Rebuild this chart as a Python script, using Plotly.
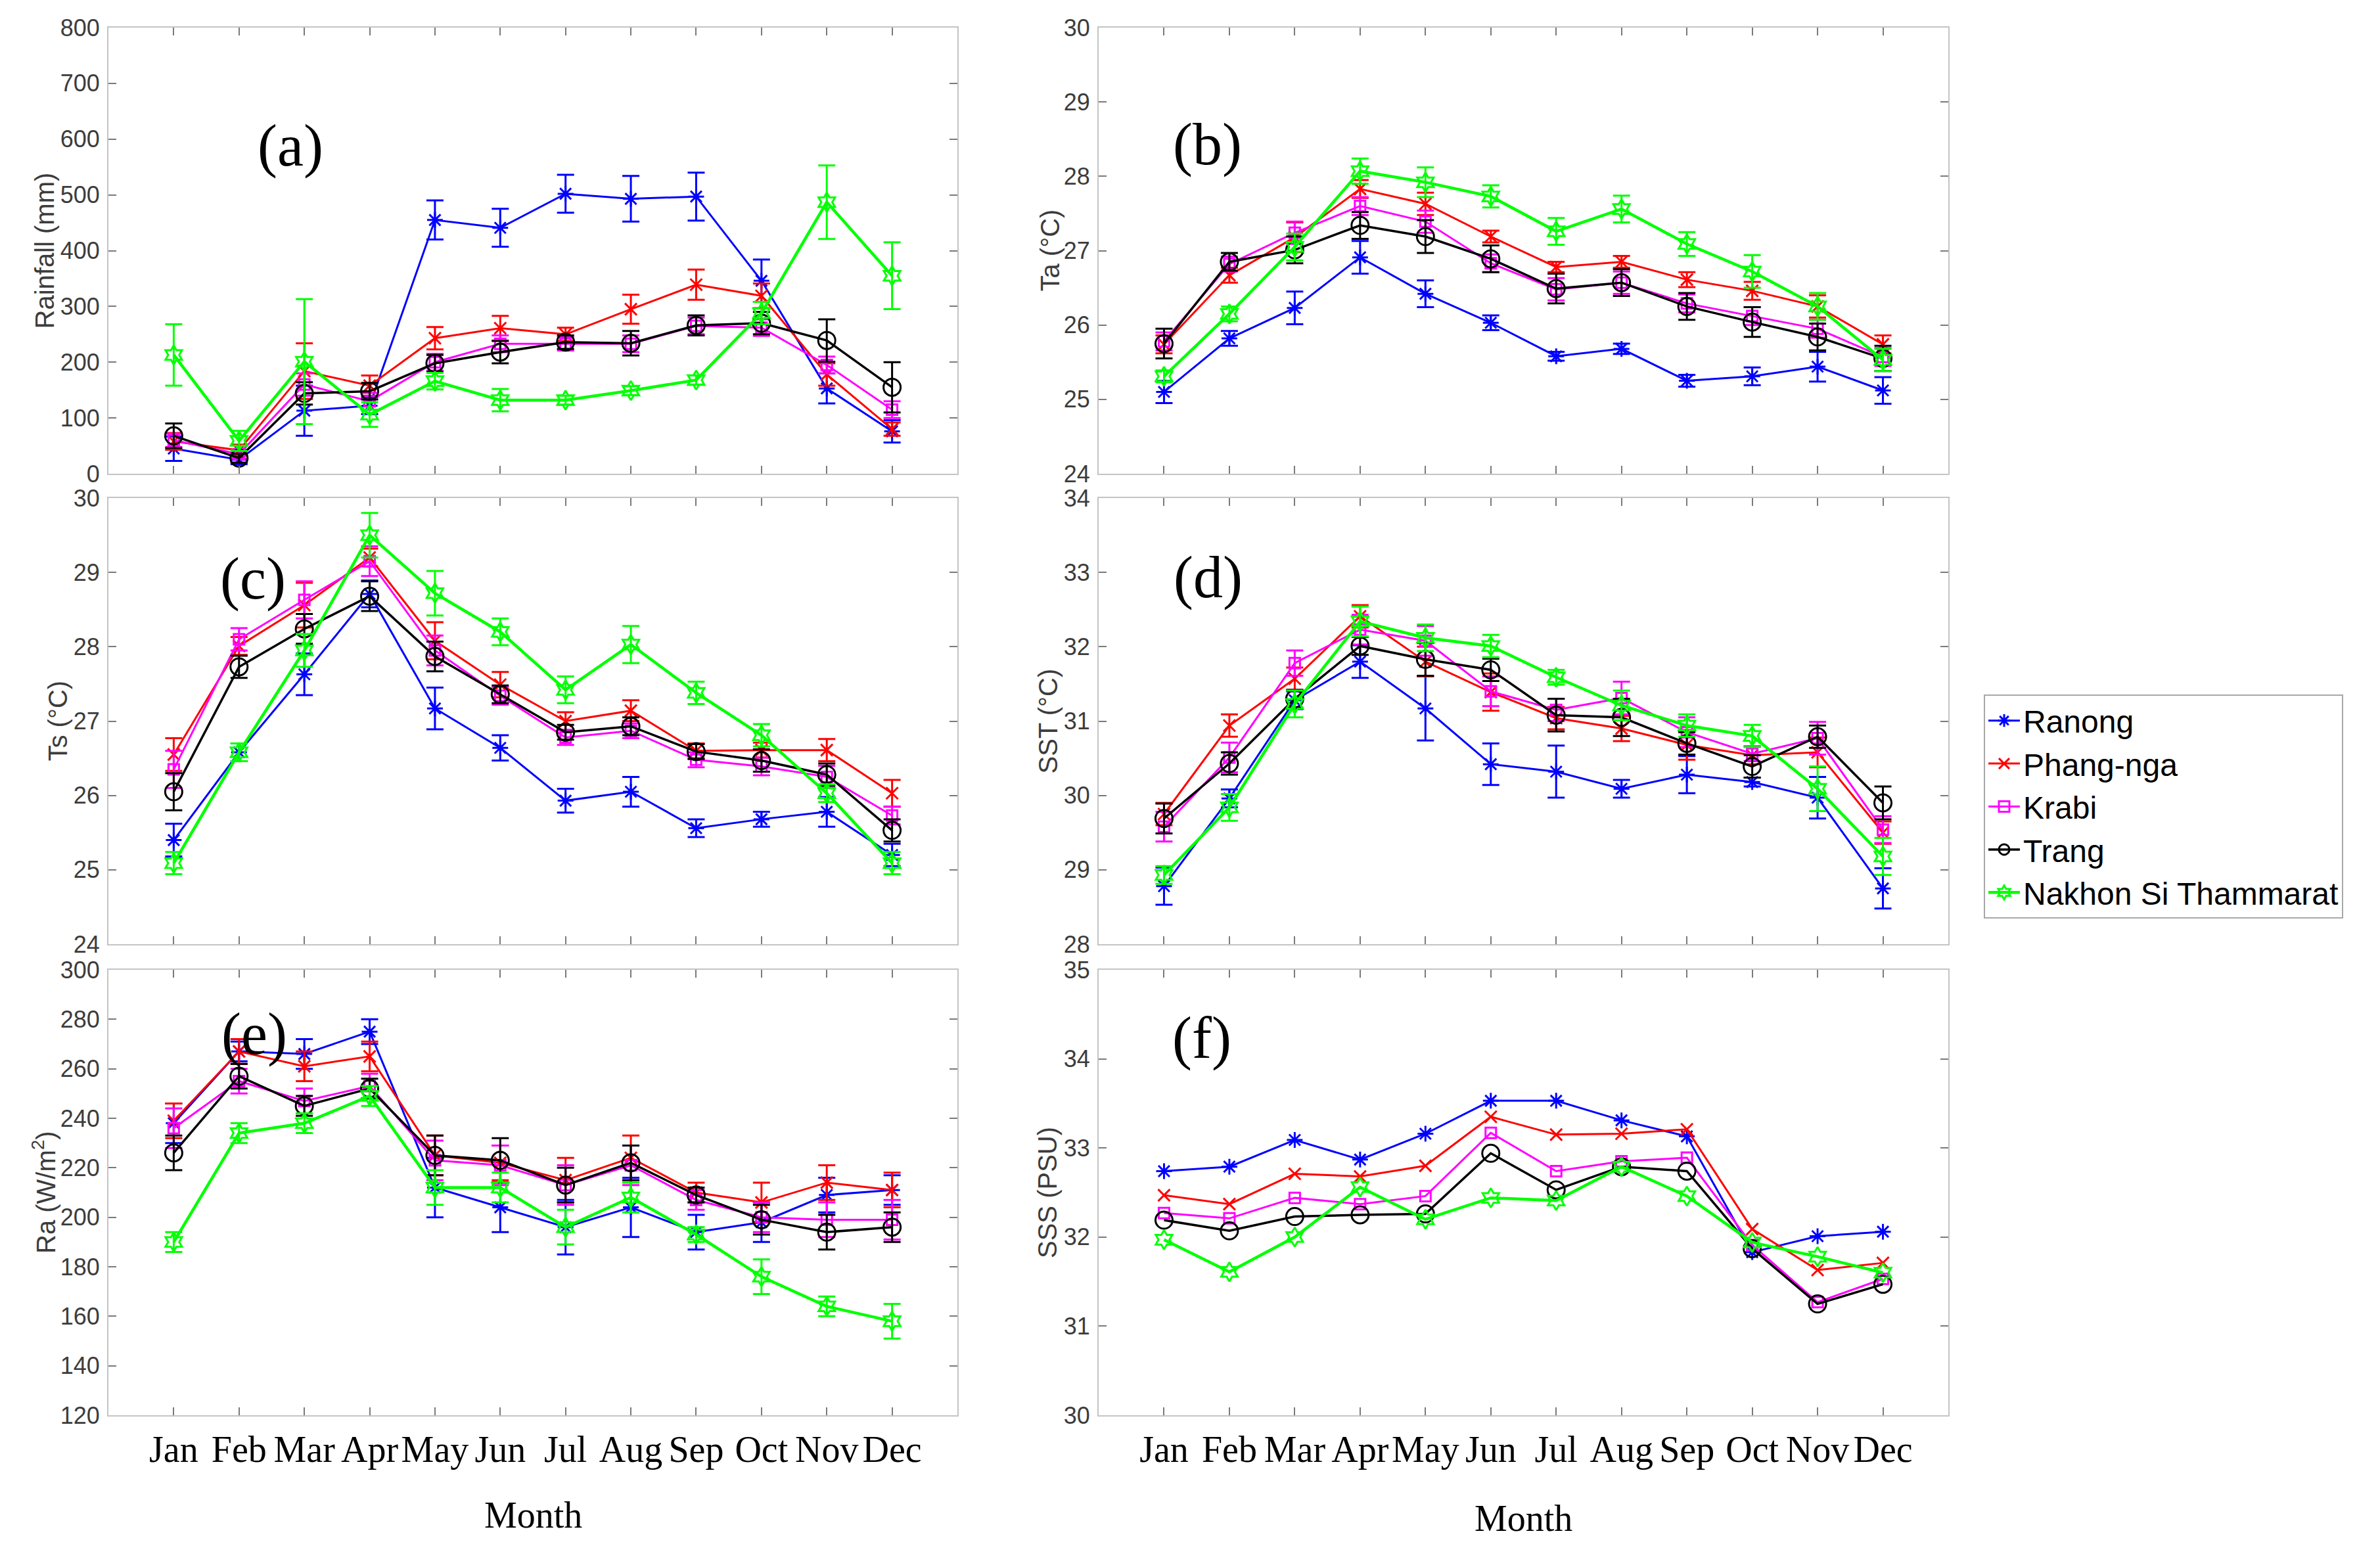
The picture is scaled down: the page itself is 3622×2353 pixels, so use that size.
import plotly.graph_objects as go

# ---------------- data ----------------
MONTHS = ["Jan", "Feb", "Mar", "Apr", "May", "Jun", "Jul", "Aug", "Sep", "Oct", "Nov", "Dec"]
STATIONS = ["Ranong", "Phang-nga", "Krabi", "Trang", "Nakhon Si Thammarat"]

# (a) Rainfall (mm)
RAIN_RANONG = [45, 25, 113, 122, 455, 441, 502, 493, 497, 346, 153, 76]
RAIN_RANONG_ERR = [22, 8, 45, 15, 35, 34, 34, 41, 43, 38, 27, 20]
RAIN_PHANGNGA = [58, 42, 184, 158, 243, 261, 250, 295, 339, 319, 178, 80]
RAIN_PHANGNGA_ERR = [15, 10, 50, 18, 20, 22, 12, 26, 27, 22, 20, 12]
RAIN_KRABI = [60, 35, 160, 130, 200, 233, 233, 233, 265, 262, 195, 115]
RAIN_KRABI_ERR = [12, 8, 20, 15, 15, 15, 12, 15, 15, 15, 15, 15]
RAIN_TRANG = [68, 28, 144, 148, 198, 218, 236, 234, 266, 270, 239, 155]
RAIN_TRANG_ERR = [22, 8, 20, 15, 15, 20, 12, 22, 18, 20, 38, 45]
RAIN_NAKHON = [213, 59, 201, 106, 166, 132, 132, 149, 168, 288, 487, 355]
RAIN_NAKHON_ERR = [55, 18, 112, 22, 15, 20, 8, 8, 8, 20, 66, 60]

# (b) Ta (°C)
TA_RANONG = [25.10, 25.82, 26.23, 26.91, 26.42, 26.03, 25.58, 25.68, 25.25, 25.31, 25.44, 25.12]
TA_RANONG_ERR = [0.15, 0.10, 0.22, 0.22, 0.18, 0.10, 0.06, 0.07, 0.08, 0.12, 0.20, 0.18]
TA_PHANGNGA = [25.74, 26.67, 27.18, 27.83, 27.63, 27.19, 26.78, 26.85, 26.61, 26.46, 26.25, 25.74]
TA_PHANGNGA_ERR = [0.12, 0.10, 0.20, 0.12, 0.15, 0.08, 0.07, 0.08, 0.10, 0.12, 0.15, 0.12]
TA_KRABI = [25.78, 26.82, 27.24, 27.60, 27.39, 26.83, 26.48, 26.57, 26.29, 26.12, 25.95, 25.57]
TA_KRABI_ERR = [0.12, 0.10, 0.15, 0.12, 0.15, 0.12, 0.15, 0.15, 0.12, 0.12, 0.12, 0.12]
TA_TRANG = [25.75, 26.85, 27.01, 27.34, 27.19, 26.89, 26.49, 26.57, 26.25, 26.04, 25.84, 25.55]
TA_TRANG_ERR = [0.20, 0.12, 0.18, 0.18, 0.22, 0.18, 0.20, 0.18, 0.18, 0.20, 0.18, 0.17]
TA_NAKHON = [25.31, 26.15, 27.05, 28.07, 27.92, 27.73, 27.26, 27.56, 27.09, 26.72, 26.25, 25.53]
TA_NAKHON_ERR = [0.08, 0.10, 0.18, 0.17, 0.20, 0.15, 0.18, 0.18, 0.16, 0.22, 0.18, 0.15]

# (c) Ts (°C)
TS_RANONG = [25.40, 26.58, 27.63, 28.71, 27.17, 26.64, 25.93, 26.05, 25.56, 25.68, 25.78, 25.20]
TS_RANONG_ERR = [0.22, 0.12, 0.28, 0.18, 0.28, 0.17, 0.16, 0.20, 0.12, 0.10, 0.20, 0.15]
TS_PHANGNGA = [26.55, 28.01, 28.56, 29.20, 28.08, 27.49, 27.00, 27.14, 26.60, 26.61, 26.61, 26.03]
TS_PHANGNGA_ERR = [0.22, 0.12, 0.30, 0.12, 0.25, 0.17, 0.12, 0.14, 0.10, 0.10, 0.15, 0.18]
TS_KRABI = [26.35, 28.10, 28.63, 29.15, 27.95, 27.34, 26.78, 26.87, 26.48, 26.39, 26.25, 25.73]
TS_KRABI_ERR = [0.25, 0.15, 0.25, 0.20, 0.20, 0.12, 0.10, 0.10, 0.10, 0.12, 0.15, 0.12]
TS_TRANG = [26.05, 27.73, 28.24, 28.68, 27.87, 27.36, 26.85, 26.93, 26.59, 26.47, 26.28, 25.53]
TS_TRANG_ERR = [0.25, 0.15, 0.20, 0.20, 0.20, 0.12, 0.10, 0.12, 0.10, 0.15, 0.15, 0.15]
TS_NAKHON = [25.09, 26.58, 27.95, 29.50, 28.72, 28.20, 27.42, 28.03, 27.38, 26.81, 26.03, 25.09]
TS_NAKHON_ERR = [0.15, 0.12, 0.22, 0.30, 0.30, 0.18, 0.18, 0.25, 0.15, 0.15, 0.12, 0.15]

# (d) SST (°C)
SST_RANONG = [28.78, 29.96, 31.28, 31.80, 31.17, 30.42, 30.32, 30.09, 30.28, 30.18, 29.97, 28.75]
SST_RANONG_ERR = [0.25, 0.12, 0.12, 0.22, 0.43, 0.28, 0.35, 0.12, 0.25, 0.06, 0.28, 0.27]
SST_PHANGNGA = [29.75, 30.94, 31.57, 32.41, 31.80, 31.39, 31.04, 30.90, 30.68, 30.54, 30.58, 29.50]
SST_PHANGNGA_ERR = [0.15, 0.15, 0.15, 0.15, 0.20, 0.25, 0.15, 0.17, 0.20, 0.12, 0.20, 0.15]
SST_KRABI = [29.58, 30.51, 31.78, 32.23, 32.08, 31.40, 31.15, 31.31, 30.85, 30.56, 30.77, 29.54]
SST_KRABI_ERR = [0.20, 0.20, 0.17, 0.20, 0.20, 0.20, 0.15, 0.22, 0.20, 0.10, 0.22, 0.18]
SST_TRANG = [29.69, 30.43, 31.30, 32.01, 31.83, 31.69, 31.08, 31.05, 30.70, 30.39, 30.79, 29.90]
SST_TRANG_ERR = [0.20, 0.15, 0.12, 0.12, 0.22, 0.15, 0.22, 0.25, 0.15, 0.15, 0.15, 0.22]
SST_NAKHON = [28.93, 29.84, 31.23, 32.34, 32.12, 32.01, 31.59, 31.21, 30.94, 30.80, 30.09, 29.18]
SST_NAKHON_ERR = [0.12, 0.18, 0.18, 0.20, 0.18, 0.15, 0.10, 0.20, 0.15, 0.15, 0.30, 0.25]

# (e) Ra (W/m2)
RA_RANONG = [238, 267, 266, 275, 212, 204, 196, 204, 194, 198, 209, 211]
RA_RANONG_ERR = [8, 4, 6, 5, 12, 10, 11, 12, 7, 8, 7, 6]
RA_PHANGNGA = [239, 267, 261, 265, 225, 222, 215, 224, 210, 206, 214, 211]
RA_PHANGNGA_ERR = [7, 5, 6, 6, 8, 7, 9, 9, 4, 8, 7, 7]
RA_KRABI = [236, 255, 247, 253, 223, 221, 213, 221, 207, 200, 199, 199]
RA_KRABI_ERR = [8, 5, 5, 5, 8, 8, 8, 8, 4, 6, 7, 8]
RA_TRANG = [226, 257, 245, 252, 225, 223, 213, 222, 209, 199, 194, 196]
RA_TRANG_ERR = [7, 5, 4, 4, 8, 9, 7, 7, 3, 6, 7, 6]
RA_NAKHON = [190, 234, 238, 249, 212, 212, 196, 208, 193, 176, 164, 158]
RA_NAKHON_ERR = [4, 4, 4, 4, 7, 6, 7, 6, 3, 7, 4, 7]

# (f) SSS (PSU) - no error bars
SSS_RANONG = [32.74, 32.79, 33.09, 32.87, 33.16, 33.53, 33.53, 33.31, 33.13, 31.83, 32.01, 32.06]
SSS_PHANGNGA = [32.47, 32.37, 32.71, 32.68, 32.80, 33.35, 33.15, 33.16, 33.21, 32.09, 31.63, 31.71]
SSS_KRABI = [32.27, 32.21, 32.44, 32.37, 32.46, 33.17, 32.74, 32.85, 32.89, 31.91, 31.27, 31.53]
SSS_TRANG = [32.19, 32.07, 32.23, 32.25, 32.26, 32.94, 32.53, 32.79, 32.74, 31.87, 31.25, 31.47]
SSS_NAKHON = [31.97, 31.61, 32.00, 32.56, 32.20, 32.44, 32.41, 32.79, 32.46, 31.94, 31.78, 31.60]

# ---------------- style ----------------
W, H = 3622, 2353
OFF = 8  # page body margin compensation (px)
COLORS = ["#0000FF", "#FF0000", "#FF00FF", "#000000", "#00FF00"]
SYMBOLS = ["asterisk-open", "x-thin-open", "square-open", "circle-open", "hexagram-open"]
MSIZES = [20, 18, 16, 26, 22]
LWIDTHS = [3, 3, 3, 3.5, 4.5]

COLS_PX = [(165, 1457), (1672, 2965)]
ROWS_PX = [(42, 721), (758, 1437), (1476, 2154)]


def fx(px):
    return (px - OFF) / W


def fy(px):
    return 1 - (px - OFF) / H


PANELS = [
    dict(label="(a)", title="Rainfall (mm)", rng=(0, 800), dtick=100,
         series=[RAIN_RANONG, RAIN_PHANGNGA, RAIN_KRABI, RAIN_TRANG, RAIN_NAKHON],
         errs=[RAIN_RANONG_ERR, RAIN_PHANGNGA_ERR, RAIN_KRABI_ERR, RAIN_TRANG_ERR, RAIN_NAKHON_ERR],
         col=0, row=0, lab_xy=(442, 222), tit_x=67),
    dict(label="(b)", title="Ta (°C)", rng=(24, 30), dtick=1,
         series=[TA_RANONG, TA_PHANGNGA, TA_KRABI, TA_TRANG, TA_NAKHON],
         errs=[TA_RANONG_ERR, TA_PHANGNGA_ERR, TA_KRABI_ERR, TA_TRANG_ERR, TA_NAKHON_ERR],
         col=1, row=0, lab_xy=(1837, 220), tit_x=1597),
    dict(label="(c)", title="Ts (°C)", rng=(24, 30), dtick=1,
         series=[TS_RANONG, TS_PHANGNGA, TS_KRABI, TS_TRANG, TS_NAKHON],
         errs=[TS_RANONG_ERR, TS_PHANGNGA_ERR, TS_KRABI_ERR, TS_TRANG_ERR, TS_NAKHON_ERR],
         col=0, row=1, lab_xy=(385, 881), tit_x=87),
    dict(label="(d)", title="SST (°C)", rng=(28, 34), dtick=1,
         series=[SST_RANONG, SST_PHANGNGA, SST_KRABI, SST_TRANG, SST_NAKHON],
         errs=[SST_RANONG_ERR, SST_PHANGNGA_ERR, SST_KRABI_ERR, SST_TRANG_ERR, SST_NAKHON_ERR],
         col=1, row=1, lab_xy=(1838, 879), tit_x=1594),
    dict(label="(e)", title="Ra (W/m<sup>2</sup>)", rng=(120, 300), dtick=20,
         series=[RA_RANONG, RA_PHANGNGA, RA_KRABI, RA_TRANG, RA_NAKHON],
         errs=[RA_RANONG_ERR, RA_PHANGNGA_ERR, RA_KRABI_ERR, RA_TRANG_ERR, RA_NAKHON_ERR],
         col=0, row=2, lab_xy=(387, 1574), tit_x=67),
    dict(label="(f)", title="SSS (PSU)", rng=(30, 35), dtick=1,
         series=[SSS_RANONG, SSS_PHANGNGA, SSS_KRABI, SSS_TRANG, SSS_NAKHON],
         errs=None,
         col=1, row=2, lab_xy=(1829, 1580), tit_x=1594),
]

SANS = "Liberation Sans, Arial, sans-serif"
SERIF = "Liberation Serif, Times New Roman, serif"
TICK_GREY = "#3c3c3c"

fig = go.Figure()
x_pos = list(range(1, len(MONTHS) + 1))
layout = dict(
    width=W, height=H, paper_bgcolor="white", plot_bgcolor="white",
    margin=dict(l=0, r=0, t=0, b=0, pad=0, autoexpand=False), showlegend=True,
)
annotations = []

for i, p in enumerate(PANELS):
    n = i + 1
    xa = "x" if n == 1 else f"x{n}"
    ya = "y" if n == 1 else f"y{n}"
    for k, name in enumerate(STATIONS):
        err = None
        if p["errs"] is not None:
            err = dict(type="data", array=p["errs"][k], visible=True,
                       color=COLORS[k], thickness=3, width=13)
        fig.add_trace(go.Scatter(
            x=x_pos, y=p["series"][k], name=name, mode="lines+markers",
            legendgroup=name, showlegend=(i == 0),
            line=dict(color=COLORS[k], width=LWIDTHS[k]),
            marker=dict(symbol=SYMBOLS[k], size=MSIZES[k], color=COLORS[k],
                        line=dict(color=COLORS[k], width=3)),
            error_y=err, xaxis=xa, yaxis=ya,
        ))
    x0, x1 = COLS_PX[p["col"]]
    y0, y1 = ROWS_PX[p["row"]]
    bottom = p["row"] == 2
    xkey = "xaxis" if n == 1 else f"xaxis{n}"
    ykey = "yaxis" if n == 1 else f"yaxis{n}"
    layout[xkey] = dict(
        domain=[fx(x0), fx(x1)], anchor=ya, range=[0, len(MONTHS) + 1],
        tickmode="array", tickvals=x_pos, ticktext=MONTHS,
        showticklabels=bottom, ticks="inside", ticklen=12, tickwidth=2,
        tickcolor="#7a7a7a", showline=True, linecolor="#c4c4c4", linewidth=2,
        mirror="ticks", showgrid=False, zeroline=False, automargin=False,
        tickfont=dict(family=SERIF, size=56, color="black"),
        ticklabelstandoff=2,
    )
    layout[ykey] = dict(
        domain=[fy(y1), fy(y0)], anchor=xa, range=list(p["rng"]),
        tickmode="linear", tick0=p["rng"][0], dtick=p["dtick"],
        ticks="inside", ticklen=12, tickwidth=2, tickcolor="#7a7a7a",
        showline=True, linecolor="#c4c4c4", linewidth=2, mirror="ticks",
        showgrid=False, zeroline=False, automargin=False,
        tickfont=dict(family=SANS, size=36, color=TICK_GREY),
        ticklabelstandoff=4,
    )
    # panel label
    annotations.append(dict(
        text=p["label"], x=fx(p["lab_xy"][0]), y=fy(p["lab_xy"][1]),
        xref="paper", yref="paper", showarrow=False, xanchor="center", yanchor="middle",
        font=dict(family=SERIF, size=90, color="black"),
    ))
    # y-axis title
    annotations.append(dict(
        text=p["title"], x=fx(p["tit_x"]), y=fy((y0 + y1) / 2),
        xref="paper", yref="paper", showarrow=False, textangle=-90,
        xanchor="center", yanchor="middle",
        font=dict(family=SANS, size=40, color=TICK_GREY),
    ))

# x-axis titles
for (cx, cy) in [((COLS_PX[0][0] + COLS_PX[0][1]) / 2, 2306), ((COLS_PX[1][0] + COLS_PX[1][1]) / 2, 2311)]:
    annotations.append(dict(
        text="Month", x=fx(cx), y=fy(cy), xref="paper", yref="paper",
        showarrow=False, xanchor="center", yanchor="middle",
        font=dict(family=SERIF, size=56, color="black"),
    ))

layout["annotations"] = annotations
layout["legend"] = dict(
    x=fx(3019), y=fy(1057), xanchor="left", yanchor="top",
    bgcolor="white", bordercolor="#a8a8a8", borderwidth=2,
    font=dict(family=SANS, size=48, color="black"),
    itemwidth=48, tracegroupgap=0,
)
fig.update_layout(**layout)
fig.write_html("out.html")
